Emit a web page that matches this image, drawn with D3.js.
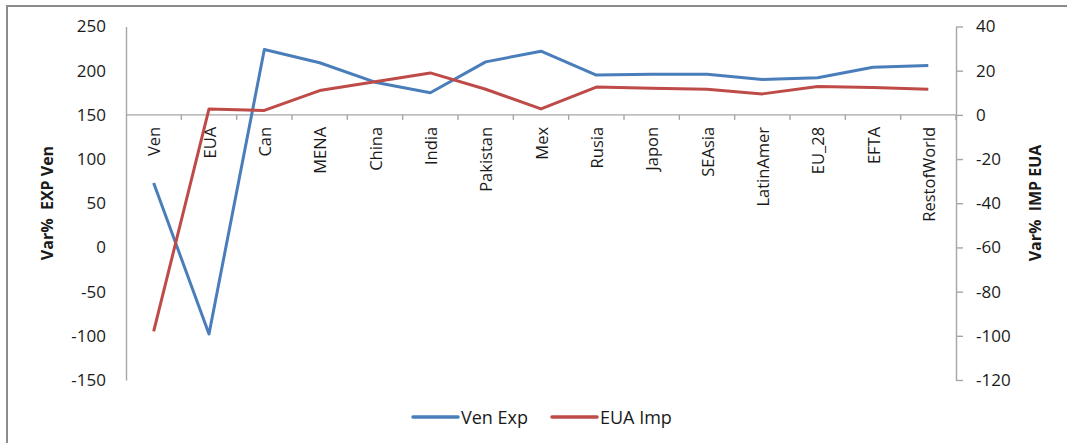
<!DOCTYPE html>
<html>
<head>
<meta charset="utf-8">
<script src="https://cdn.jsdelivr.net/npm/d3@7"></script>
<style>
  html, body { margin: 0; padding: 0; background: #fff; }
  svg { display: block; font-family: "Open Sans", sans-serif; }
</style>
</head>
<body>
<svg id="chart" width="1067" height="443"></svg>
<script>
// Regions / trading partners
const categories = ["Ven", "EUA", "Can", "MENA", "China", "India", "Pakistan", "Mex",
  "Rusia", "Japon", "SEAsia", "LatinAmer", "EU_28", "EFTA", "RestofWorld"];

// Var% of Venezuelan exports (left axis)
const venExp = [73, -98, 224, 209, 187, 175, 210, 222, 195, 196, 196, 190, 192, 204, 206];

// Var% of EUA imports (right axis)
const euaImp = [-98, 2.7, 2, 11, 15, 19, 11.6, 2.7, 12.6, 12.1, 11.6, 9.5, 12.8, 12.4, 11.6];

const leftTicks = [250, 200, 150, 100, 50, 0, -50, -100, -150];
const rightTicks = [40, 20, 0, -20, -40, -60, -80, -100, -120];

const seriesNames = ["Ven Exp", "EUA Imp"];
const colors = ["#4A7EBB", "#BE4B48"];

const svg = d3.select("#chart");
const axisColor = "#A6A6A6";
const textColor = "#1a1a1a";

// Outer chart frame
svg.append("rect")
  .attr("x", 7).attr("y", 6)
  .attr("width", 1080).attr("height", 460)
  .attr("fill", "none").attr("stroke", "#8c8c8c").attr("stroke-width", 2);

const plot = { left: 126, right: 956, top: 26.5, bottom: 380 };

const x = d3.scaleBand().domain(categories).range([plot.left, plot.right]).padding(0);
const yL = d3.scaleLinear().domain([-150, 250]).range([plot.bottom, plot.top]);
const yR = d3.scaleLinear().domain([-120, 40]).range([plot.bottom, plot.top]);

const fmt = d => String(d);

// Left value axis
const gL = svg.append("g").attr("transform", `translate(${plot.left},0)`)
  .call(d3.axisLeft(yL).tickValues(leftTicks).tickFormat(fmt).tickSize(0).tickSizeOuter(0).tickPadding(20));

// Right value axis
const gR = svg.append("g").attr("transform", `translate(${plot.right},0)`)
  .call(d3.axisRight(yR).tickValues(rightTicks).tickFormat(fmt).tickSize(7).tickSizeOuter(0).tickPadding(13));

[gL, gR].forEach(g => {
  g.select(".domain").attr("stroke", axisColor).attr("stroke-width", 1.4);
  g.selectAll(".tick line").attr("stroke", axisColor).attr("stroke-width", 1.4);
  g.selectAll(".tick text").attr("fill", textColor).style("font-size", "17px").style("font-family", "'Open Sans', sans-serif");
});

// Category axis crossing at 150 (left) / 0 (right)
const axisY = yL(150);
const gX = svg.append("g").attr("transform", `translate(0,${axisY})`);
gX.append("line")
  .attr("x1", plot.left).attr("x2", plot.right)
  .attr("stroke", axisColor).attr("stroke-width", 1.4);

// Boundary tick marks between categories
const bounds = categories.map(c => x(c)).concat([x(categories[categories.length - 1]) + x.bandwidth()]);
gX.selectAll("line.bound").data(bounds.slice(1)).join("line")
  .attr("class", "bound")
  .attr("x1", d => d).attr("x2", d => d)
  .attr("y1", 0).attr("y2", 5)
  .attr("stroke", axisColor).attr("stroke-width", 1.4);

// Rotated category labels
gX.selectAll("text.cat").data(categories).join("text")
  .attr("class", "cat")
  .attr("transform", d => `translate(${x(d) + x.bandwidth() / 2},12) rotate(-90)`)
  .attr("text-anchor", "end")
  .attr("dominant-baseline", "central")
  .attr("fill", textColor)
  .style("font-size", "16.5px")
  .text(d => d);

// Series lines
const lineL = d3.line().x((d, i) => x(categories[i]) + x.bandwidth() / 2).y(d => yL(d));
const lineR = d3.line().x((d, i) => x(categories[i]) + x.bandwidth() / 2).y(d => yR(d));

svg.append("path").datum(venExp)
  .attr("d", lineL).attr("fill", "none")
  .attr("stroke", colors[0]).attr("stroke-width", 3).attr("stroke-linejoin", "round");

svg.append("path").datum(euaImp)
  .attr("d", lineR).attr("fill", "none")
  .attr("stroke", colors[1]).attr("stroke-width", 3).attr("stroke-linejoin", "round");

// Axis titles
svg.append("text")
  .attr("transform", "translate(47,203) rotate(-90)")
  .attr("text-anchor", "middle").attr("dominant-baseline", "central")
  .attr("fill", textColor).style("font-size", "16px").style("font-weight", "bold")
  .attr("xml:space", "preserve")
  .text("Var%  EXP Ven");

svg.append("text")
  .attr("transform", "translate(1035,203) rotate(-90)")
  .attr("text-anchor", "middle").attr("dominant-baseline", "central")
  .attr("fill", textColor).style("font-size", "16px").style("font-weight", "bold")
  .attr("xml:space", "preserve")
  .text("Var%  IMP EUA");

// Legend
const legendItems = [
  { name: seriesNames[0], color: colors[0], x: 413 },
  { name: seriesNames[1], color: colors[1], x: 552 }
];
const lg = svg.append("g").attr("transform", "translate(0,417)");
legendItems.forEach(it => {
  lg.append("line")
    .attr("x1", it.x).attr("x2", it.x + 45)
    .attr("stroke", it.color).attr("stroke-width", 3.5).attr("stroke-linecap", "round");
  lg.append("text")
    .attr("x", it.x + 48).attr("y", 0)
    .attr("dominant-baseline", "central")
    .attr("fill", textColor).style("font-size", "18px")
    .text(it.name);
});
</script>
</body>
</html>
